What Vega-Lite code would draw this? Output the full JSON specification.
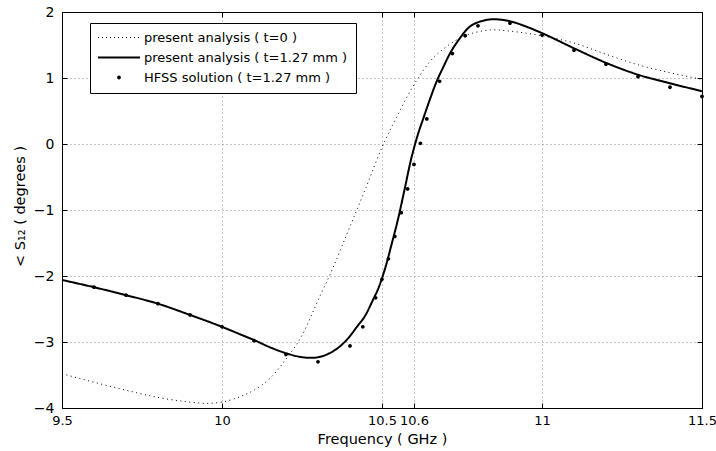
{
  "$schema": "https://vega.github.io/schema/vega-lite/v6.json",
  "autosize": {"type": "none"},
  "padding": {"left": 62, "top": 12, "right": 14, "bottom": 43},
  "width": 640,
  "height": 396,
  "background": "white",
  "config": {
    "font": "DejaVu Sans",
    "view": {"stroke": "black", "strokeWidth": 1},
    "axis": {
      "domainColor": "black",
      "tickColor": "black",
      "labelColor": "black",
      "titleColor": "black",
      "titleFontWeight": "normal",
      "labelFontSize": 14,
      "titleFontSize": 14.5,
      "gridColor": "#8c8c8c",
      "gridDash": [1, 3],
      "labelOverlap": false,
      "labelFlush": false,
      "format": "~g"
    }
  },
  "data": {
    "values": [
      {"s": "present analysis ( t=0 )", "f": 9.50, "p": -3.48},
      {"s": "present analysis ( t=0 )", "f": 9.60, "p": -3.61},
      {"s": "present analysis ( t=0 )", "f": 9.70, "p": -3.73},
      {"s": "present analysis ( t=0 )", "f": 9.80, "p": -3.84},
      {"s": "present analysis ( t=0 )", "f": 9.90, "p": -3.91},
      {"s": "present analysis ( t=0 )", "f": 9.95, "p": -3.93},
      {"s": "present analysis ( t=0 )", "f": 10.00, "p": -3.91},
      {"s": "present analysis ( t=0 )", "f": 10.05, "p": -3.84},
      {"s": "present analysis ( t=0 )", "f": 10.10, "p": -3.73},
      {"s": "present analysis ( t=0 )", "f": 10.15, "p": -3.55},
      {"s": "present analysis ( t=0 )", "f": 10.20, "p": -3.26},
      {"s": "present analysis ( t=0 )", "f": 10.25, "p": -2.90},
      {"s": "present analysis ( t=0 )", "f": 10.30, "p": -2.37},
      {"s": "present analysis ( t=0 )", "f": 10.35, "p": -1.84},
      {"s": "present analysis ( t=0 )", "f": 10.40, "p": -1.25},
      {"s": "present analysis ( t=0 )", "f": 10.45, "p": -0.66},
      {"s": "present analysis ( t=0 )", "f": 10.50, "p": -0.05},
      {"s": "present analysis ( t=0 )", "f": 10.55, "p": 0.45},
      {"s": "present analysis ( t=0 )", "f": 10.60, "p": 0.90},
      {"s": "present analysis ( t=0 )", "f": 10.65, "p": 1.25},
      {"s": "present analysis ( t=0 )", "f": 10.70, "p": 1.47},
      {"s": "present analysis ( t=0 )", "f": 10.75, "p": 1.62},
      {"s": "present analysis ( t=0 )", "f": 10.80, "p": 1.70},
      {"s": "present analysis ( t=0 )", "f": 10.85, "p": 1.73},
      {"s": "present analysis ( t=0 )", "f": 10.90, "p": 1.71},
      {"s": "present analysis ( t=0 )", "f": 10.95, "p": 1.68},
      {"s": "present analysis ( t=0 )", "f": 11.00, "p": 1.64},
      {"s": "present analysis ( t=0 )", "f": 11.10, "p": 1.53},
      {"s": "present analysis ( t=0 )", "f": 11.20, "p": 1.36},
      {"s": "present analysis ( t=0 )", "f": 11.30, "p": 1.20},
      {"s": "present analysis ( t=0 )", "f": 11.40, "p": 1.08},
      {"s": "present analysis ( t=0 )", "f": 11.50, "p": 0.98},
      {"s": "present analysis ( t=1.27 mm )", "f": 9.50, "p": -2.06},
      {"s": "present analysis ( t=1.27 mm )", "f": 9.60, "p": -2.17},
      {"s": "present analysis ( t=1.27 mm )", "f": 9.70, "p": -2.29},
      {"s": "present analysis ( t=1.27 mm )", "f": 9.80, "p": -2.42},
      {"s": "present analysis ( t=1.27 mm )", "f": 9.90, "p": -2.59},
      {"s": "present analysis ( t=1.27 mm )", "f": 10.00, "p": -2.77},
      {"s": "present analysis ( t=1.27 mm )", "f": 10.05, "p": -2.87},
      {"s": "present analysis ( t=1.27 mm )", "f": 10.10, "p": -2.97},
      {"s": "present analysis ( t=1.27 mm )", "f": 10.15, "p": -3.08},
      {"s": "present analysis ( t=1.27 mm )", "f": 10.20, "p": -3.17},
      {"s": "present analysis ( t=1.27 mm )", "f": 10.25, "p": -3.23},
      {"s": "present analysis ( t=1.27 mm )", "f": 10.28, "p": -3.24},
      {"s": "present analysis ( t=1.27 mm )", "f": 10.31, "p": -3.22},
      {"s": "present analysis ( t=1.27 mm )", "f": 10.34, "p": -3.16},
      {"s": "present analysis ( t=1.27 mm )", "f": 10.37, "p": -3.06},
      {"s": "present analysis ( t=1.27 mm )", "f": 10.40, "p": -2.91},
      {"s": "present analysis ( t=1.27 mm )", "f": 10.42, "p": -2.78},
      {"s": "present analysis ( t=1.27 mm )", "f": 10.45, "p": -2.58},
      {"s": "present analysis ( t=1.27 mm )", "f": 10.47, "p": -2.38},
      {"s": "present analysis ( t=1.27 mm )", "f": 10.49, "p": -2.17},
      {"s": "present analysis ( t=1.27 mm )", "f": 10.51, "p": -1.88},
      {"s": "present analysis ( t=1.27 mm )", "f": 10.53, "p": -1.52},
      {"s": "present analysis ( t=1.27 mm )", "f": 10.55, "p": -1.14},
      {"s": "present analysis ( t=1.27 mm )", "f": 10.57, "p": -0.70},
      {"s": "present analysis ( t=1.27 mm )", "f": 10.59, "p": -0.25},
      {"s": "present analysis ( t=1.27 mm )", "f": 10.61, "p": 0.11},
      {"s": "present analysis ( t=1.27 mm )", "f": 10.63, "p": 0.40},
      {"s": "present analysis ( t=1.27 mm )", "f": 10.65, "p": 0.68},
      {"s": "present analysis ( t=1.27 mm )", "f": 10.67, "p": 0.94},
      {"s": "present analysis ( t=1.27 mm )", "f": 10.69, "p": 1.15},
      {"s": "present analysis ( t=1.27 mm )", "f": 10.71, "p": 1.35},
      {"s": "present analysis ( t=1.27 mm )", "f": 10.74, "p": 1.58},
      {"s": "present analysis ( t=1.27 mm )", "f": 10.77, "p": 1.76},
      {"s": "present analysis ( t=1.27 mm )", "f": 10.81, "p": 1.86},
      {"s": "present analysis ( t=1.27 mm )", "f": 10.85, "p": 1.89},
      {"s": "present analysis ( t=1.27 mm )", "f": 10.90, "p": 1.86},
      {"s": "present analysis ( t=1.27 mm )", "f": 10.95, "p": 1.78},
      {"s": "present analysis ( t=1.27 mm )", "f": 11.00, "p": 1.68},
      {"s": "present analysis ( t=1.27 mm )", "f": 11.10, "p": 1.45},
      {"s": "present analysis ( t=1.27 mm )", "f": 11.20, "p": 1.23},
      {"s": "present analysis ( t=1.27 mm )", "f": 11.30, "p": 1.05},
      {"s": "present analysis ( t=1.27 mm )", "f": 11.40, "p": 0.92},
      {"s": "present analysis ( t=1.27 mm )", "f": 11.50, "p": 0.80},
      {"s": "HFSS solution ( t=1.27 mm )", "f": 9.60, "p": -2.17},
      {"s": "HFSS solution ( t=1.27 mm )", "f": 9.70, "p": -2.29},
      {"s": "HFSS solution ( t=1.27 mm )", "f": 9.80, "p": -2.42},
      {"s": "HFSS solution ( t=1.27 mm )", "f": 9.90, "p": -2.59},
      {"s": "HFSS solution ( t=1.27 mm )", "f": 10.00, "p": -2.77},
      {"s": "HFSS solution ( t=1.27 mm )", "f": 10.10, "p": -2.98},
      {"s": "HFSS solution ( t=1.27 mm )", "f": 10.20, "p": -3.19},
      {"s": "HFSS solution ( t=1.27 mm )", "f": 10.30, "p": -3.30},
      {"s": "HFSS solution ( t=1.27 mm )", "f": 10.40, "p": -3.06},
      {"s": "HFSS solution ( t=1.27 mm )", "f": 10.44, "p": -2.77},
      {"s": "HFSS solution ( t=1.27 mm )", "f": 10.48, "p": -2.33},
      {"s": "HFSS solution ( t=1.27 mm )", "f": 10.50, "p": -2.05},
      {"s": "HFSS solution ( t=1.27 mm )", "f": 10.52, "p": -1.74},
      {"s": "HFSS solution ( t=1.27 mm )", "f": 10.54, "p": -1.40},
      {"s": "HFSS solution ( t=1.27 mm )", "f": 10.56, "p": -1.04},
      {"s": "HFSS solution ( t=1.27 mm )", "f": 10.58, "p": -0.68},
      {"s": "HFSS solution ( t=1.27 mm )", "f": 10.60, "p": -0.31},
      {"s": "HFSS solution ( t=1.27 mm )", "f": 10.62, "p": 0.01},
      {"s": "HFSS solution ( t=1.27 mm )", "f": 10.64, "p": 0.38},
      {"s": "HFSS solution ( t=1.27 mm )", "f": 10.68, "p": 0.95},
      {"s": "HFSS solution ( t=1.27 mm )", "f": 10.72, "p": 1.37},
      {"s": "HFSS solution ( t=1.27 mm )", "f": 10.76, "p": 1.64},
      {"s": "HFSS solution ( t=1.27 mm )", "f": 10.80, "p": 1.79},
      {"s": "HFSS solution ( t=1.27 mm )", "f": 10.90, "p": 1.83},
      {"s": "HFSS solution ( t=1.27 mm )", "f": 11.00, "p": 1.65},
      {"s": "HFSS solution ( t=1.27 mm )", "f": 11.10, "p": 1.42},
      {"s": "HFSS solution ( t=1.27 mm )", "f": 11.20, "p": 1.21},
      {"s": "HFSS solution ( t=1.27 mm )", "f": 11.30, "p": 1.02},
      {"s": "HFSS solution ( t=1.27 mm )", "f": 11.40, "p": 0.86},
      {"s": "HFSS solution ( t=1.27 mm )", "f": 11.50, "p": 0.72}
    ]
  },
  "layer": [
    {
      "transform": [{"filter": "datum.s != 'HFSS solution ( t=1.27 mm )'"}],
      "mark": {"type": "line", "interpolate": "monotone", "color": "black"},
      "encoding": {
        "x": {
          "field": "f", "type": "quantitative",
          "scale": {"domain": [9.5, 11.5], "nice": false, "zero": false},
          "axis": {
            "orient": "bottom",
            "values": [9.5, 10, 10.5, 10.6, 11, 11.5],
            "title": "Frequency ( GHz )",
            "grid": true,
            "tickSize": -5,
            "labelPadding": 11,
            "labelFontSize": 13,
            "titleX": 320,
            "titleY": 35,
            "titleBaseline": "alphabetic"
          }
        },
        "y": {
          "field": "p", "type": "quantitative",
          "scale": {"domain": [-4, 2], "nice": false, "zero": false},
          "axis": {
            "orient": "left",
            "values": [-4, -3, -2, -1, 0, 1, 2],
            "title": "< S₁₂ ( degrees )",
            "grid": true,
            "tickSize": -5,
            "labelPadding": 13,
            "titleX": -42,
            "titleY": 194,
            "titleAngle": 270,
            "titleAlign": "center",
            "titleBaseline": "middle"
          }
        },
        "strokeDash": {
          "field": "s", "type": "nominal", "legend": null,
          "scale": {"domain": ["present analysis ( t=0 )", "present analysis ( t=1.27 mm )"], "range": [[1, 3.5], [1, 0]]}
        },
        "strokeWidth": {
          "field": "s", "type": "nominal", "legend": null,
          "scale": {"domain": ["present analysis ( t=0 )", "present analysis ( t=1.27 mm )"], "range": [1, 2]}
        }
      }
    },
    {
      "transform": [{"filter": "datum.s == 'HFSS solution ( t=1.27 mm )'"}],
      "mark": {"type": "point", "filled": true, "color": "black", "size": 100, "opacity": 1},
      "encoding": {
        "x": {
          "field": "f", "type": "quantitative",
          "axis": {"orient": "top", "values": [9.5, 10, 10.5, 10.6, 11, 11.5], "labels": false, "title": null, "grid": false, "tickSize": -5}
        },
        "y": {
          "field": "p", "type": "quantitative",
          "axis": {"orient": "right", "values": [-4, -3, -2, -1, 0, 1, 2], "labels": false, "title": null, "grid": false, "tickSize": -5}
        },
        "shape": {
          "field": "s", "type": "nominal",
          "scale": {
            "domain": ["present analysis ( t=0 )", "present analysis ( t=1.27 mm )", "HFSS solution ( t=1.27 mm )"],
            "range": [
              "M-4.2,-0.1h0.2v0.2h-0.2ZM-3.4,-0.1h0.2v0.2h-0.2ZM-2.6,-0.1h0.2v0.2h-0.2ZM-1.8,-0.1h0.2v0.2h-0.2ZM-1,-0.1h0.2v0.2h-0.2ZM-0.2,-0.1h0.2v0.2h-0.2ZM0.6,-0.1h0.2v0.2h-0.2ZM1.4,-0.1h0.2v0.2h-0.2ZM2.2,-0.1h0.2v0.2h-0.2ZM3,-0.1h0.2v0.2h-0.2ZM3.8,-0.1h0.2v0.2h-0.2Z",
              "M-4.2,-0.2H4.2V0.2H-4.2Z",
              "M-0.38,0A0.38,0.38,0,1,1,0.38,0A0.38,0.38,0,1,1,-0.38,0Z"
            ]
          },
          "legend": {
            "title": null,
            "orient": "none",
            "legendX": 28,
            "legendY": 11,
            "padding": 8,
            "strokeColor": "black",
            "fillColor": "white",
            "labelFontSize": 13,
            "labelColor": "black",
            "labelLimit": 400,
            "symbolSize": 100,
            "symbolStrokeWidth": 0,
            "symbolFillColor": "black",
            "symbolOffset": 14.5,
            "labelOffset": 18.5,
            "rowPadding": 6
          }
        }
      }
    }
  ],
  "resolve": {"axis": {"x": "independent", "y": "independent"}}
}
